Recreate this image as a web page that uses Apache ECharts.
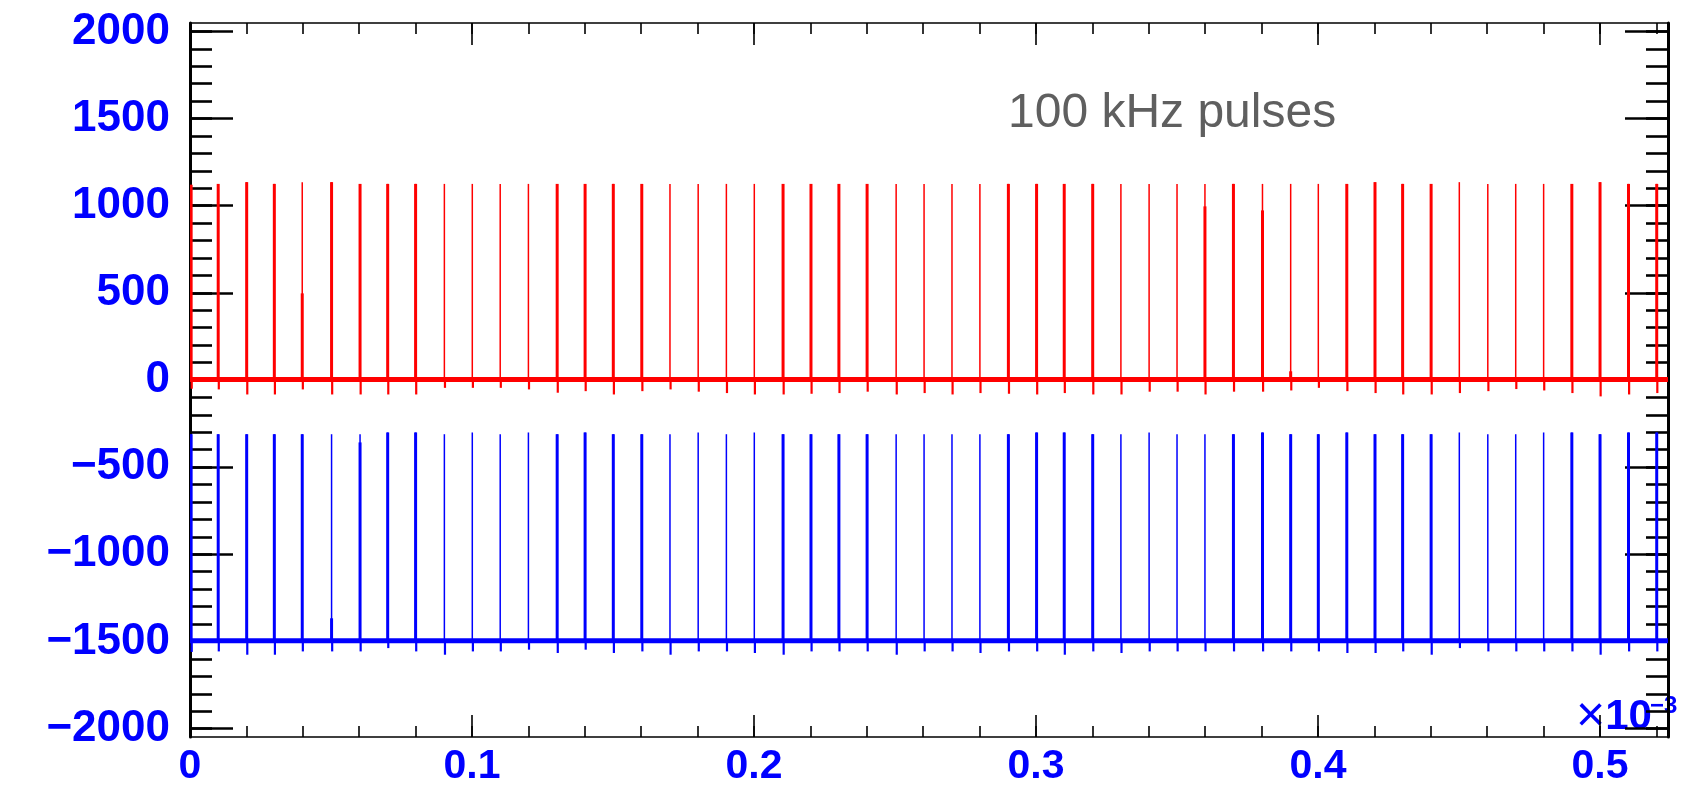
<!DOCTYPE html>
<html>
<head>
<meta charset="utf-8">
<title>100 kHz pulses</title>
<script src="https://cdn.jsdelivr.net/npm/echarts@6/dist/echarts.min.js"></script>
<style>
  html, body { margin: 0; padding: 0; background: #ffffff; }
  #chart { width: 1691px; height: 787px; }
</style>
</head>
<body>
<div id="chart"></div>
<script>
// Time axis (units of 10^-3 s) and ADC-count axis
const timeRange = [0, 0.5241];
const adcRange = [-2048, 2048];
const xTickLabels = [0, 0.1, 0.2, 0.3, 0.4, 0.5];
const yTickLabels = [-2000, -1500, -1000, -500, 0, 500, 1000, 1500, 2000];

// Pulse arrival times (10^-3 s), one pulse every 10 us
const pulseTime = [
  0.0004, 0.0100, 0.0201, 0.0299, 0.0398, 0.0502, 0.0603, 0.0701, 0.0800, 0.0902,
  0.1001, 0.1100, 0.1200, 0.1302, 0.1401, 0.1501, 0.1602, 0.1702, 0.1802, 0.1902,
  0.2001, 0.2103, 0.2202, 0.2301, 0.2401, 0.2504, 0.2603, 0.2702, 0.2801, 0.2902,
  0.3002, 0.3100, 0.3201, 0.3301, 0.3401, 0.3500, 0.3599, 0.3700, 0.3803, 0.3903,
  0.4001, 0.4102, 0.4202, 0.4300, 0.4401, 0.4501, 0.4602, 0.4701, 0.4800, 0.4900,
  0.5000, 0.5101, 0.5201
];

// Channel 1 (red): baseline, pulse maxima, level up to which the pulse is densely sampled, undershoot
const redBaseline = 3;
const redPeak = [
  1120, 1125, 1135, 1125, 1135, 1135, 1125, 1125, 1125, 1125,
  1125, 1125, 1125, 1125, 1125, 1125, 1125, 1125, 1125, 1125,
  1125, 1125, 1125, 1125, 1125, 1125, 1125, 1125, 1125, 1125,
  1125, 1125, 1125, 1125, 1125, 1125, 1125, 1125, 1125, 1125,
  1125, 1125, 1135, 1125, 1125, 1135, 1125, 1125, 1125, 1125,
  1135, 1125, 1125
];
const redDense = [
  1120, 1125, 1135, 1125,  497, 1135, 1125, 1125, 1125, null,
  null, null, null, 1125, 1125, 1125, 1125, null, null, null,
  null, 1125, 1125, 1125, 1125, null, null, null, null, 1125,
  1125, 1125, 1125, null, null, null,  996, 1125,  973,   50,
  null, 1125, 1135, 1125, 1125, null, null, null, null, 1125,
  1135, 1125, 1125
];
const redDip = [
  -50, -54, -83, -83, -54, -83, -83, -83, -83, -45,
  -45, -45, -54, -73, -64, -83, -64, -54, -67, -75,
  -83, -83, -79, -75, -67, -83, -75, -83, -75, -79,
  -83, -75, -83, -83, -67, -67, -83, -67, -67, -60,
  -45, -64, -75, -83, -83, -75, -64, -52, -60, -75,
  -94, -83, -75
];

// Channel 2 (blue)
const blueBaseline = -1496;
const bluePeak = [
  -311, -311, -311, -311, -311, -311, -311, -301, -301, -311,
  -301, -311, -301, -311, -301, -311, -311, -311, -301, -311,
  -301, -311, -311, -311, -311, -311, -311, -311, -311, -311,
  -301, -301, -311, -311, -301, -311, -311, -311, -301, -311,
  -311, -301, -311, -311, -311, -301, -311, -311, -301, -301,
  -311, -301, -301
];
const blueDense = [
  -311, -311, -311, -311, -311, -1367, -358, -301, -301, null,
  null, null, null, -311, -301, -311, -311, null, null, null,
  null, -311, -311, -311, -311, null, null, null, null, -311,
  -301, -301, -311, null, null, null, null, -311, -301, -311,
  -311, -301, -311, -311, -311, null, null, null, null, -301,
  -311, -301, -301
];
const blueDip = [
  -1560, -1557, -1576, -1576, -1557, -1557, -1557, -1538, -1557, -1576,
  -1557, -1557, -1547, -1566, -1547, -1566, -1557, -1576, -1557, -1557,
  -1566, -1576, -1557, -1557, -1557, -1576, -1557, -1557, -1566, -1557,
  -1557, -1576, -1557, -1566, -1557, -1557, -1557, -1557, -1557, -1557,
  -1557, -1566, -1566, -1557, -1576, -1538, -1557, -1557, -1557, -1557,
  -1576, -1557, -1557
];

const RED = '#ff0000';
const BLUE = '#0000ff';
const FONT = '"Liberation Sans", Arial, Helvetica, sans-serif';

// Minor tick positions (axis decoration)
const xMinorTicks = [];
for (let i = 0; i <= 26; i++) xMinorTicks.push(+(i * 0.02).toFixed(2));
const yMinorTicks = [];
for (let v = -2000; v <= 2000; v += 100) yMinorTicks.push(v);

function pulseData(peak, dense, dip) {
  return pulseTime.map((t, i) => [t, peak[i], dense[i] == null ? NaN : dense[i], dip[i]]);
}

// Each pulse: thin trace up to the maximum, heavier trace where samples pile up,
// and the short undershoot below the baseline.
function pulseRenderer(color, base) {
  return function (params, api) {
    const t = api.value(0);
    const pB = api.coord([t, base]);
    const pP = api.coord([t, api.value(1)]);
    const dense = api.value(2);
    const pD = api.coord([t, api.value(3)]);
    const children = [
      { type: 'line', shape: { x1: pB[0], y1: pB[1], x2: pP[0], y2: pP[1] },
        style: { stroke: color, lineWidth: 1.5 } },
      { type: 'line', shape: { x1: pB[0] + 0.6, y1: pB[1], x2: pD[0] + 0.6, y2: pD[1] },
        style: { stroke: color, lineWidth: 2.2 } }
    ];
    if (!isNaN(dense)) {
      const pS = api.coord([t, dense]);
      children.push({ type: 'line', shape: { x1: pB[0], y1: pB[1], x2: pS[0], y2: pS[1] },
        style: { stroke: color, lineWidth: 3 } });
    }
    return { type: 'group', children: children };
  };
}

function tickAxis(position, values, length, width, lineWidth, extra) {
  const vertical = position === 'left' || position === 'right';
  return Object.assign({
    type: 'value', position: position,
    min: vertical ? adcRange[0] : timeRange[0],
    max: vertical ? adcRange[1] : timeRange[1],
    axisLine: { show: lineWidth > 0, onZero: false,
      lineStyle: { color: '#000', width: lineWidth || 1 } },
    axisTick: { show: true, inside: true, length: length, customValues: values,
      lineStyle: { color: '#000', width: width } },
    axisLabel: { show: false },
    splitLine: { show: false }
  }, extra || {});
}

const chart = echarts.init(document.getElementById('chart'), null, { renderer: 'canvas' });

const option = {
  animation: false,
  backgroundColor: '#ffffff',
  grid: { left: 190, right: 23, top: 23, bottom: 46, containLabel: false },
  xAxis: [
    tickAxis('bottom', xTickLabels, 22, 1.6, 1.5, {
      axisLabel: {
        show: true, customValues: xTickLabels, margin: 9,
        color: BLUE, fontSize: 41, fontWeight: 'bold', fontFamily: FONT,
        formatter: v => (v === 0 ? '0' : v.toFixed(1))
      }
    }),
    tickAxis('bottom', xMinorTicks, 11, 1.6, 0),
    tickAxis('top', xTickLabels, 22, 1.6, 1.5),
    tickAxis('top', xMinorTicks, 11, 1.6, 0)
  ],
  yAxis: [
    tickAxis('left', yTickLabels, 43, 2.6, 3, {
      axisLabel: {
        show: true, customValues: yTickLabels, margin: 20,
        color: BLUE, fontSize: 44, fontWeight: 'bold', fontFamily: FONT,
        formatter: v => (v < 0 ? '\u2212' + Math.abs(v) : String(v))
      }
    }),
    tickAxis('left', yMinorTicks, 22, 2.6, 0),
    tickAxis('right', yTickLabels, 43, 2.6, 3),
    tickAxis('right', yMinorTicks, 22, 2.6, 0)
  ],
  series: [
    {
      name: 'ch1 baseline', type: 'line', xAxisIndex: 0, yAxisIndex: 0,
      data: [[timeRange[0], redBaseline], [timeRange[1], redBaseline]],
      showSymbol: false, lineStyle: { color: RED, width: 5 }, silent: true
    },
    {
      name: 'ch2 baseline', type: 'line', xAxisIndex: 0, yAxisIndex: 0,
      data: [[timeRange[0], blueBaseline], [timeRange[1], blueBaseline]],
      showSymbol: false, lineStyle: { color: BLUE, width: 5 }, silent: true
    },
    {
      name: 'ch1', type: 'custom', xAxisIndex: 0, yAxisIndex: 0, clip: true,
      data: pulseData(redPeak, redDense, redDip),
      encode: { x: 0, y: [1, 3] },
      renderItem: pulseRenderer(RED, redBaseline)
    },
    {
      name: 'ch2', type: 'custom', xAxisIndex: 0, yAxisIndex: 0, clip: true,
      data: pulseData(bluePeak, blueDense, blueDip),
      encode: { x: 0, y: [1, 3] },
      renderItem: pulseRenderer(BLUE, blueBaseline)
    }
  ],
  graphic: [
    {
      type: 'text', left: 1008, top: 90, silent: true,
      style: { text: '100 kHz pulses', fill: '#5f5f5f', font: '48px ' + FONT }
    },
    {
      type: 'text', x: 1576, y: 742, silent: true,
      style: {
        text: '{m|\u00d7}{n|10}', textVerticalAlign: 'bottom',
        rich: {
          m: { fill: BLUE, font: '50px ' + FONT },
          n: { fill: BLUE, font: 'bold 42px ' + FONT }
        }
      }
    },
    {
      type: 'text', x: 1650, y: 718, silent: true,
      style: { text: '\u22123', fill: BLUE, font: 'bold 24px ' + FONT, textVerticalAlign: 'bottom' }
    }
  ]
};

chart.setOption(option);
</script>
</body>
</html>
